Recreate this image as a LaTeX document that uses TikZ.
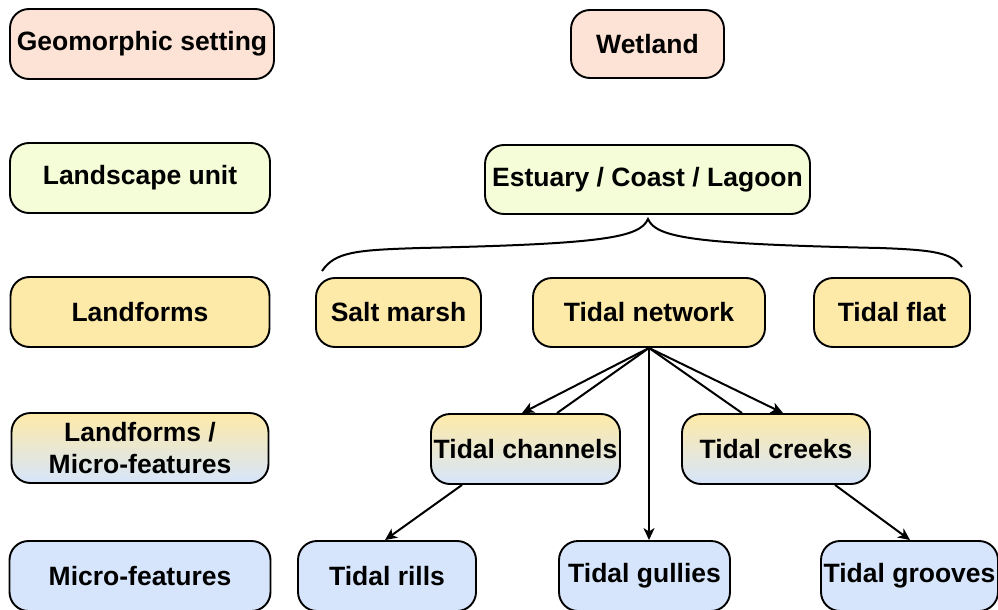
\documentclass[tikz,border=0pt]{standalone}
\usepackage{fontspec}
\setmainfont{Liberation Sans}
\usetikzlibrary{arrows.meta,calc}
\definecolor{cpeach}{HTML}{FCE3D5}
\definecolor{clime}{HTML}{F4FCD8}
\definecolor{cyel}{HTML}{FEEAA8}
\definecolor{cblue}{HTML}{D6E5FB}
\tikzset{
  box/.style={draw=black, line width=1.9pt, rounded corners=19pt, minimum height=70pt,
    inner sep=0pt, align=center, font=\fontsize{26.5}{31.5}\selectfont\bfseries},
  peach/.style={box, fill=cpeach},
  lime/.style={box, fill=clime},
  yel/.style={box, fill=cyel},
  grad/.style={box, top color=cyel, bottom color=cblue},
  blu/.style={box, fill=cblue},
  conn/.style={line width=2pt},
  arr/.style={conn, -{Stealth[length=12pt,width=11pt,inset=3.5pt]}},
}
\begin{document}
\begin{tikzpicture}[x=1pt,y=-1pt]
\useasboundingbox (0,0) rectangle (998,610);
% left column
\node[peach, minimum width=264pt] (geo) at (142,44) {Geomorphic setting};
\node[lime, minimum width=260pt] (lsu) at (140,178) {Landscape unit};
\node[yel, minimum width=259pt] (lf) at (140,312) {Landforms};
\node[grad, minimum width=257pt] (lmf) at (140,448) {Landforms /\\Micro-features};
\node[blu, minimum width=261pt] (mf) at (140,576) {Micro-features};
% right side
\node[peach, minimum width=153pt, minimum height=68pt] (wet) at (647.5,44) {Wetland};
\node[lime, minimum width=325pt, minimum height=69pt] (est) at (647.5,179.5) {Estuary / Coast / Lagoon};
\node[yel, minimum width=165pt, minimum height=69pt] (salt) at (398.5,312.5) {Salt marsh};
\node[yel, minimum width=232pt, minimum height=69pt] (net) at (649,312.5) {Tidal network};
\node[yel, minimum width=156pt, minimum height=69pt] (flat) at (892,312.5) {Tidal flat};
\node[grad, minimum width=189pt] (chan) at (525.5,449) {Tidal channels};
\node[grad, minimum width=188pt] (creek) at (776,449) {Tidal creeks};
\node[blu, minimum width=178pt] (rill) at (387,576) {Tidal rills};
\node[blu, minimum width=171pt] (gully) at (644.5,576) {Tidal gullies};
\node[blu, minimum width=177pt] (groove) at (909.5,576) {Tidal grooves};
% brace
\coordinate (bl) at (322,271);
\coordinate (bc) at (648,219);
\coordinate (br) at (962,267);
\draw[conn] (bl) .. controls (335,252) and (355,250) .. (420,248)
  .. controls (600,244) and (640,238) .. (bc)
  .. controls (656,238) and (696,244) .. (880,248)
  .. controls (935,250) and (952,253) .. (br);
% connectors
\draw[arr] (net.south) -- ([xshift=-3.5pt]chan.north);
\draw[conn] (net.south) -- ([xshift=31.5pt]chan.north);
\draw[arr] (net.south) -- (net.south |- gully.north);
\draw[conn] (net.south) -- ([xshift=-34pt]creek.north);
\draw[arr] (net.south) -- ([xshift=7pt]creek.north);
\draw[arr] ([xshift=-63.5pt]chan.south) -- ([xshift=-2pt]rill.north);
\draw[arr] ([xshift=59pt]creek.south) -- ([xshift=0.5pt]groove.north);
\end{tikzpicture}
\end{document}
